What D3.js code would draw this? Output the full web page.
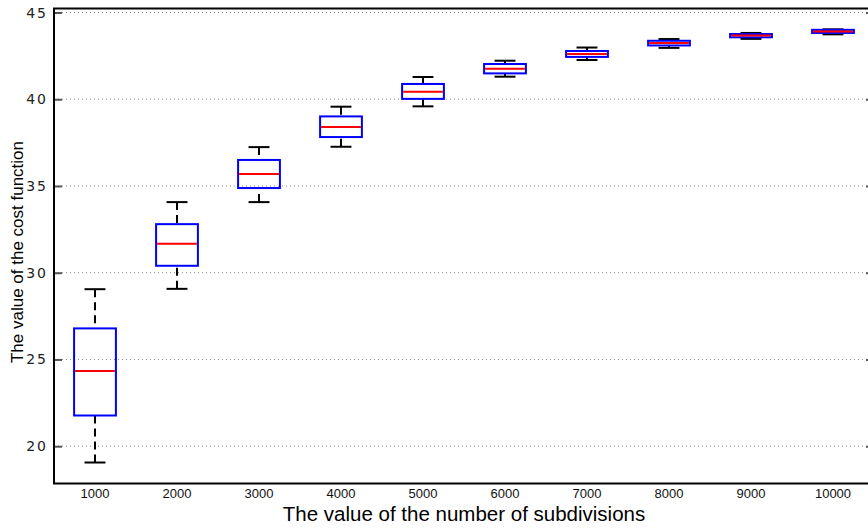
<!DOCTYPE html>
<html>
<head>
<meta charset="utf-8">
<script src="https://cdn.jsdelivr.net/npm/d3@7"></script>
<style>
  body { margin: 0; background: #fff; }
  svg { display: block; }
</style>
</head>
<body>
<script>
let width = 868,
  height = 528;

// subdivisions on the x axis
let categories = ["1000", "2000", "3000", "4000", "5000", "6000", "7000", "8000", "9000", "10000"];

// box statistics
let whiskerLow = [19.06, 29.07, 34.07, 37.26, 39.59, 41.30, 42.26, 42.96, 43.48, 43.74];
let q1 = [21.77, 30.40, 34.88, 37.82, 40.02, 41.49, 42.44, 43.10, 43.57, 43.82];
let median = [24.34, 31.67, 35.69, 38.40, 40.43, 41.76, 42.61, 43.24, 43.67, 43.90];
let q3 = [26.79, 32.80, 36.50, 39.01, 40.88, 42.03, 42.78, 43.37, 43.76, 44.00];
let whiskerHigh = [29.05, 34.07, 37.24, 39.57, 41.28, 42.22, 42.98, 43.47, 43.82, 44.03];

let yTicks = [20, 25, 30, 35, 40, 45];

let boxes = categories.map(function(c, i) {
  return { cat: c, lo: whiskerLow[i], q1: q1[i], med: median[i], q3: q3[i], hi: whiskerHigh[i] };
});

let plotLeft = 54, plotRight = 874, plotTop = 8.5, plotBottom = 483.5;

let x = d3.scaleBand()
  .domain(categories)
  .range([plotLeft, plotRight]);

let y = d3.scaleLinear()
  .domain([17.85, 45.23])
  .range([plotBottom, plotTop]);

let svg = d3.select("body").append("svg")
  .attr("width", width)
  .attr("height", height);

// dotted grid
svg.append("g")
  .selectAll("line")
  .data(yTicks)
  .enter().append("line")
  .attr("x1", plotLeft).attr("x2", plotRight)
  .attr("y1", function(d) { return y(d); })
  .attr("y2", function(d) { return y(d); })
  .attr("stroke", "#8c8c8c")
  .attr("stroke-width", 1)
  .attr("stroke-dasharray", "1,3");

// y axis, ticks pointing inward
let yAxis = svg.append("g")
  .attr("transform", "translate(" + plotLeft + ",0)")
  .call(d3.axisRight(y).tickValues(yTicks).tickSize(8).tickFormat(""));
yAxis.select(".domain").remove();
yAxis.selectAll(".tick line").attr("stroke", "#555").attr("stroke-width", 2);

let yAxisR = svg.append("g")
  .attr("transform", "translate(" + plotRight + ",0)")
  .call(d3.axisLeft(y).tickValues(yTicks).tickSize(8).tickFormat(""));
yAxisR.select(".domain").remove();
yAxisR.selectAll(".tick line").attr("stroke", "#555").attr("stroke-width", 2);

svg.append("g")
  .selectAll("text")
  .data(yTicks)
  .enter().append("text")
  .attr("x", plotLeft - 6)
  .attr("y", function(d) { return y(d); })
  .attr("dy", "0.36em")
  .attr("text-anchor", "end")
  .attr("font-family", "DejaVu Sans")
  .attr("font-size", 14)
  .attr("letter-spacing", 2)
  .attr("fill", "#222")
  .text(function(d) { return d; });

// frame
svg.append("path")
  .attr("d", "M" + plotRight + "," + plotTop + "H" + plotLeft + "V" + plotBottom + "H" + plotRight)
  .attr("fill", "none")
  .attr("stroke", "#000")
  .attr("stroke-width", 2);

// x tick labels
svg.append("g")
  .selectAll("text")
  .data(categories)
  .enter().append("text")
  .attr("x", function(d) { return x(d) + x.bandwidth() / 2; })
  .attr("y", 498)
  .attr("text-anchor", "middle")
  .attr("font-family", "Liberation Sans")
  .attr("font-size", 13)
  .attr("fill", "#111")
  .text(function(d) { return d; });

// boxes
let bw = x.bandwidth() * 0.51;
let capW = bw * 0.5;

let g = svg.append("g")
  .selectAll("g")
  .data(boxes)
  .enter().append("g")
  .attr("transform", function(d) { return "translate(" + (x(d.cat) + x.bandwidth() / 2) + ",0)"; });

g.append("line")
  .attr("y1", function(d) { return y(d.hi); })
  .attr("y2", function(d) { return y(d.q3); })
  .attr("stroke", "#000").attr("stroke-width", 2)
  .attr("stroke-dasharray", "8,5");

g.append("line")
  .attr("y1", function(d) { return y(d.lo); })
  .attr("y2", function(d) { return y(d.q1); })
  .attr("stroke", "#000").attr("stroke-width", 2)
  .attr("stroke-dasharray", "8,5");

g.append("line")
  .attr("x1", -capW / 2).attr("x2", capW / 2)
  .attr("y1", function(d) { return y(d.hi); })
  .attr("y2", function(d) { return y(d.hi); })
  .attr("stroke", "#000").attr("stroke-width", 2);

g.append("line")
  .attr("x1", -capW / 2).attr("x2", capW / 2)
  .attr("y1", function(d) { return y(d.lo); })
  .attr("y2", function(d) { return y(d.lo); })
  .attr("stroke", "#000").attr("stroke-width", 2);

g.append("rect")
  .attr("x", -bw / 2)
  .attr("width", bw)
  .attr("y", function(d) { return y(d.q3); })
  .attr("height", function(d) { return y(d.q1) - y(d.q3); })
  .attr("fill", "none")
  .attr("stroke", "#0000ff")
  .attr("stroke-width", 2);

g.append("line")
  .attr("x1", -bw / 2 + 1).attr("x2", bw / 2 - 1)
  .attr("y1", function(d) { return y(d.med); })
  .attr("y2", function(d) { return y(d.med); })
  .attr("stroke", "#ff0000").attr("stroke-width", 2);

// axis titles
svg.append("text")
  .attr("x", 464)
  .attr("y", 521)
  .attr("text-anchor", "middle")
  .attr("font-family", "Liberation Sans")
  .attr("font-size", 20.5)
  .attr("fill", "#000")
  .text("The value of the number of subdivisions");

svg.append("text")
  .attr("transform", "translate(23,252) rotate(-90)")
  .attr("text-anchor", "middle")
  .attr("font-family", "Liberation Sans")
  .attr("font-size", 17)
  .attr("fill", "#000")
  .text("The value of the cost function");
</script>
</body>
</html>
